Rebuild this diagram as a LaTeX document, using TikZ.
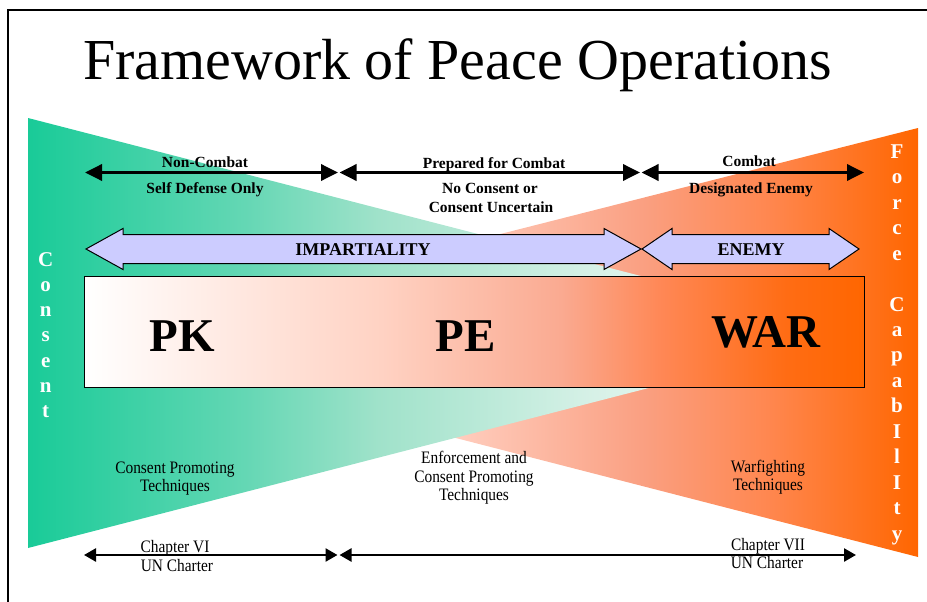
\documentclass[tikz,border=0pt]{standalone}
\usepackage{fontspec}
\setmainfont{Liberation Serif}
\newfontfamily\condfont[FakeStretch=0.88]{Liberation Serif}
\usetikzlibrary{arrows.meta}
\definecolor{clav}{RGB}{204,204,255}
\pgfdeclarehorizontalshading{greenshade}{100bp}{%
  rgb(0bp)=(0.098,0.796,0.596); rgb(25bp)=(0.098,0.796,0.596);
  rgb(38bp)=(0.392,0.843,0.706); rgb(46bp)=(0.627,0.886,0.792);
  rgb(59bp)=(0.843,0.945,0.906); rgb(75bp)=(1,1,1); rgb(100bp)=(1,1,1)}
\pgfdeclarehorizontalshading{orangeshade}{100bp}{%
  rgb(0bp)=(1,1,1); rgb(25bp)=(1,1,1);
  rgb(47.5bp)=(1,0.804,0.745); rgb(58.5bp)=(0.98,0.627,0.51);
  rgb(66bp)=(1,0.53,0.314); rgb(75bp)=(1,0.4,0); rgb(100bp)=(1,0.4,0)}
\pgfdeclarehorizontalshading{boxshade}{100bp}{%
  rgb(0bp)=(1,1,1); rgb(25bp)=(1,1,1);
  rgb(44bp)=(1,0.824,0.765); rgb(55.5bp)=(0.98,0.667,0.569);
  rgb(62bp)=(1,0.53,0.333); rgb(70bp)=(1,0.424,0.078); rgb(75bp)=(1,0.4,0); rgb(100bp)=(1,0.4,0)}
\begin{document}
\begin{tikzpicture}[x=1pt,y=-1pt,
  toplbl/.style={font=\bfseries\fontsize{15.5}{18}\selectfont, anchor=base, inner sep=0pt},
  biglbl/.style={font=\bfseries\fontsize{18}{21}\selectfont, anchor=center, inner sep=0pt},
  hugelbl/.style={font=\bfseries\fontsize{47}{56}\selectfont, anchor=base, inner sep=0pt},
  vlet/.style={font=\bfseries\fontsize{21}{24}\selectfont, text=white, anchor=base, inner sep=0pt},
  btxt/.style={font=\condfont\fontsize{17.5}{20}\selectfont, anchor=base, inner sep=0pt},
  topar/.style={line width=3.5pt, {Triangle[length=17pt,width=16pt]}-{Triangle[length=17pt,width=16pt]}},
  botar/.style={line width=2.5pt, {Triangle[length=12pt,width=13pt]}-{Triangle[length=12pt,width=13pt]}},
  bigar/.style={fill=clav, draw=black, line width=1pt, line join=miter}
]
\useasboundingbox (0,0) rectangle (927,602);
% frame
\draw[line width=1.8pt] (8,602) -- (8,10) -- (927,10);
% title
\node[anchor=base, inner sep=0pt, font=\fontsize{58}{69}\selectfont] (title) at (457.5,80) {Framework of Peace Operations};
% triangles
\shade[shading=orangeshade] (918,128) -- (918,557) -- (79,341) -- cycle;
\shade[shading=greenshade] (28,118) -- (28,548) -- (862,333) -- cycle;
% top arrows
\coordinate (t1) at (85,172.5);
\coordinate (t2) at (338,172.5);
\coordinate (t3) at (339.5,172.5);
\coordinate (t4) at (640,172.5);
\coordinate (t5) at (641.5,172.5);
\coordinate (t6) at (864,172.5);
\draw[topar] (t1) -- (t2);
\draw[topar] (t3) -- (t4);
\draw[topar] (t5) -- (t6);
\node[toplbl] (nc) at (205,167) {Non-Combat};
\node[toplbl] (sd) at (205,193) {Self Defense Only};
\node[toplbl] (pc) at (494,168) {Prepared for Combat};
\node[toplbl] (ncs) at (490,193) {No Consent or};
\node[toplbl] (cu) at (491,212) {Consent Uncertain};
\node[toplbl] (cb) at (749,166) {Combat};
\node[toplbl] (de) at (751,193) {Designated Enemy};
% big arrows
\draw[bigar] (86,249) -- (123,228.5) -- (123,234.5) -- (604,234.5) -- (604,228.5) -- (641,249)
  -- (604,269.5) -- (604,263.5) -- (123,263.5) -- (123,269.5) -- cycle;
\draw[bigar] (642,249) -- (672,228.5) -- (672,234.5) -- (829,234.5) -- (829,228.5) -- (859,249)
  -- (829,269.5) -- (829,263.5) -- (672,263.5) -- (672,269.5) -- cycle;
\node[biglbl] (imp) at (363,249.5) {IMPARTIALITY};
\node[biglbl] (en) at (751,249.5) {ENEMY};
% box
\node[draw=black, line width=1.1pt, shade, shading=boxshade,
  minimum width=780pt, minimum height=111pt, inner sep=0pt, anchor=north west] (box) at (84,276) {};
\node[hugelbl] (pk) at (182.5,351.5) {PK};
\node[hugelbl] (pe) at (466,351) {PE};
\node[hugelbl] (war) at (766,347) {WAR};
% vertical letters
\foreach \ch [count=\i] in {C,o,n,s,e,n,t}
  \node[vlet] (cons\i) at (45.7,{266+25.3*(\i-1)}) {\ch};
\foreach \ch/\k in {F/0,o/1,r/2,c/3,e/4,C/6,a/7,p/8,a/9,b/10,I/11,l/12,I/13,t/14,y/15}
  \node[vlet] (force\k) at (897,{158.3+25.45*\k}) {\ch};
% bottom texts
\node[btxt] (cp1) at (175,473) {Consent Promoting};
\node[btxt] (cp2) at (175,491) {Techniques};
\node[btxt] (ec1) at (474,463) {Enforcement and};
\node[btxt] (ec2) at (474,482) {Consent Promoting};
\node[btxt] (ec3) at (474,500) {Techniques};
\node[btxt] (wf1) at (768,472) {Warfighting};
\node[btxt] (wf2) at (768,490) {Techniques};
% bottom arrows
\coordinate (b1) at (84,555);
\coordinate (b2) at (337.5,555);
\coordinate (b3) at (339.5,555);
\coordinate (b4) at (856,555);
\draw[botar] (b1) -- (b2);
\draw[botar] (b3) -- (b4);
\node[btxt] (ch6) at (175,552) {Chapter VI};
\node[btxt] (un6) at (177,571) {UN Charter};
\node[btxt] (ch7) at (768,550) {Chapter VII};
\node[btxt] (un7) at (767,568) {UN Charter};
\end{tikzpicture}
\end{document}
